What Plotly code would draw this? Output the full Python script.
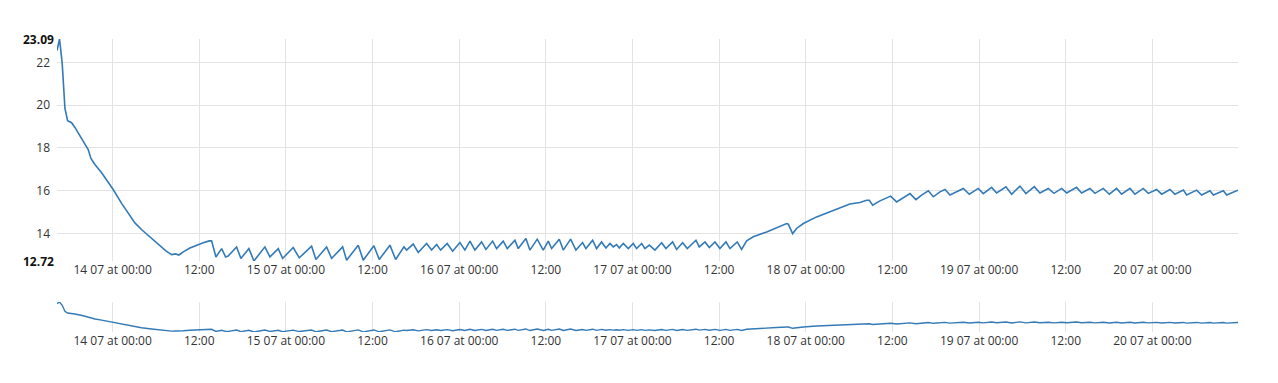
import pandas as pd
import plotly.graph_objects as go

# ---- data: hours since 14 07 00:00, temperature ----
base_time = "2024-07-14 00:00"
hours = [
    -7.70, -7.35, -6.98, -6.60, -6.23, -5.68, -5.22, -4.07, -3.70, -3.38, -3.00, -2.45, -1.52, -0.60, 0.08,
    1.25, 1.94, 3.09, 4.00, 5.40, 6.30, 7.38, 8.17, 8.72, 9.18, 9.78, 10.71, 11.86, 12.55, 13.38, 13.71,
    14.31, 15.10, 15.65, 16.00, 17.17, 17.77, 18.88, 19.57,
    21.09, 21.79, 22.94, 23.55, 25.01, 25.85, 27.56, 28.16, 29.64, 30.33, 31.86, 32.41, 34.02, 34.71,
    36.19, 36.93, 38.41, 39.20, 40.35, 40.72, 41.63, 42.33, 43.49, 44.18, 44.88, 45.43, 46.34,
    47.09, 48.10, 48.79, 49.49, 50.18, 51.10, 51.70, 52.63, 53.18, 54.10, 54.66, 55.72, 56.18,
    57.24, 57.79, 58.81, 59.64, 60.34, 60.80, 61.86, 62.42, 63.43, 64.17, 65.09, 65.55, 66.48, 67.03,
    67.72, 68.32, 68.88, 69.34, 69.80, 70.17, 70.73, 71.42, 72.11, 72.57, 73.27, 73.73, 74.33,
    75.11, 76.04, 76.63, 77.56, 78.11, 78.94, 79.59, 80.79, 81.25, 82.04, 82.64, 83.42, 84.11,
    84.95, 85.50, 86.51, 87.11, 87.81, 88.73, 90.58, 91.96, 93.35, 93.58, 94.18, 94.73, 95.66,
    97.50, 99.35, 102.10, 103.50, 104.43, 104.80, 105.26, 106.28, 107.20, 107.75, 108.58, 109.50,
    110.43, 111.26, 112.04, 112.97, 113.66, 114.58, 115.28, 115.97, 116.89, 117.82, 118.65, 119.89,
    120.58, 121.74, 122.43, 123.72, 124.51, 125.66, 126.49, 127.65, 128.43, 129.58,
    130.37, 131.44, 132.13, 133.50, 134.20, 135.36, 136.05, 137.20, 138.04, 139.05, 139.74, 140.90,
    141.59, 142.74, 143.43, 144.59, 145.29, 146.44, 147.13, 148.29, 148.75, 150.13, 150.83, 151.98,
    152.45, 153.83, 154.29, 155.86,
]
temperature = [
    22.55, 23.09, 21.95, 19.85, 19.27, 19.18, 18.96, 18.32, 18.05, 17.93, 17.51, 17.23, 16.84, 16.42, 16.06,
    15.41, 15.09, 14.50, 14.19, 13.77, 13.49, 13.19, 13.02, 13.05, 13.00, 13.15, 13.33, 13.49, 13.57, 13.66, 13.66,
    12.91, 13.30, 12.91, 12.95, 13.38, 12.84, 13.30, 12.72,
    13.38, 12.91, 13.30, 12.84, 13.35, 12.87, 13.41, 12.79, 13.38, 12.84, 13.38, 12.76, 13.46, 12.76,
    13.43, 12.79, 13.46, 12.79, 13.38, 13.23, 13.51, 13.12, 13.54, 13.23, 13.49, 13.23, 13.54,
    13.18, 13.58, 13.23, 13.65, 13.23, 13.61, 13.26, 13.65, 13.30, 13.65, 13.30, 13.69, 13.30,
    13.77, 13.23, 13.74, 13.23, 13.65, 13.30, 13.74, 13.23, 13.74, 13.23, 13.58, 13.30, 13.69, 13.30,
    13.61, 13.33, 13.54, 13.38, 13.49, 13.33, 13.54, 13.30, 13.54, 13.30, 13.54, 13.30, 13.46,
    13.23, 13.57, 13.30, 13.61, 13.26, 13.57, 13.30, 13.69, 13.38, 13.61, 13.35, 13.61, 13.30,
    13.61, 13.30, 13.61, 13.26, 13.66, 13.85, 14.08, 14.29, 14.47, 14.44, 14.00, 14.24, 14.47,
    14.78, 15.02, 15.38, 15.45, 15.56, 15.56, 15.33, 15.53, 15.69, 15.75, 15.48, 15.69,
    15.87, 15.59, 15.80, 16.00, 15.72, 15.95, 16.06, 15.80, 15.95, 16.11, 15.84, 16.11,
    15.87, 16.16, 15.90, 16.19, 15.84, 16.22, 15.87, 16.19, 15.90, 16.11,
    15.88, 16.11, 15.90, 16.16, 15.90, 16.11, 15.88, 16.11, 15.84, 16.11, 15.84, 16.11,
    15.84, 16.11, 15.88, 16.06, 15.84, 16.06, 15.84, 16.03, 15.80, 16.03, 15.80, 16.00,
    15.80, 16.00, 15.80, 16.03,
]

tick_hours = [0, 12, 24, 36, 48, 60, 72, 84, 96, 108, 120, 132, 144]
tick_labels = [
    "14 07 at 00:00", "12:00", "15 07 at 00:00", "12:00", "16 07 at 00:00", "12:00",
    "17 07 at 00:00", "12:00", "18 07 at 00:00", "12:00", "19 07 at 00:00", "12:00",
    "20 07 at 00:00",
]
y_ticks = [14, 16, 18, 20, 22]

# ---- build ----
t0 = pd.Timestamp(base_time)
times = t0 + pd.to_timedelta(hours, unit="h")
tick_times = t0 + pd.to_timedelta(tick_hours, unit="h")
vmax, vmin = max(temperature), min(temperature)

LINE = "#337ab7"
GRID = "#e3e3e3"
TXT = "#333333"
FONT = "Open Sans"

fig = go.Figure()
fig.add_trace(go.Scatter(x=times, y=temperature, mode="lines",
                         line=dict(color=LINE, width=1.6), xaxis="x", yaxis="y",
                         hoverinfo="skip", showlegend=False))
fig.add_trace(go.Scatter(x=times, y=temperature, mode="lines",
                         line=dict(color=LINE, width=1.4), xaxis="x2", yaxis="y2",
                         hoverinfo="skip", showlegend=False))

xcommon = dict(range=[times[0], times[-1]], tickmode="array", tickvals=list(tick_times),
               ticktext=tick_labels, showgrid=True, gridcolor=GRID, gridwidth=1,
               zeroline=False, showline=False, ticks="",
               tickfont=dict(family=FONT, size=12, color=TXT))

fig.update_layout(
    width=1278, height=383,
    margin=dict(l=57, r=40, t=39, b=51),
    paper_bgcolor="white", plot_bgcolor="white",
    font=dict(family=FONT, size=12, color=TXT),
    hovermode=False,
    xaxis=dict(**xcommon, anchor="y"),
    yaxis=dict(domain=[0.2423, 1.0], range=[vmin, vmax], tickmode="array", tickvals=y_ticks,
               showgrid=True, gridcolor=GRID, zeroline=False, showline=False, ticks="",
               ticklabelstandoff=6, tickfont=dict(family=FONT, size=12, color=TXT)),
    xaxis2=dict(**xcommon, anchor="y2", matches=None),
    yaxis2=dict(domain=[0.0, 0.1024], range=[vmin, vmax], showgrid=False, zeroline=False,
                showticklabels=False, showline=False, ticks=""),
)

for v in (vmax, vmin):
    fig.add_annotation(x=0, xref="paper", xanchor="right", xshift=-1,
                       y=v, yref="y", yanchor="middle", showarrow=False,
                       text="<b>%.2f</b>" % v,
                       font=dict(family=FONT, size=12, color="#111111"))

fig.write_html("out.html")
